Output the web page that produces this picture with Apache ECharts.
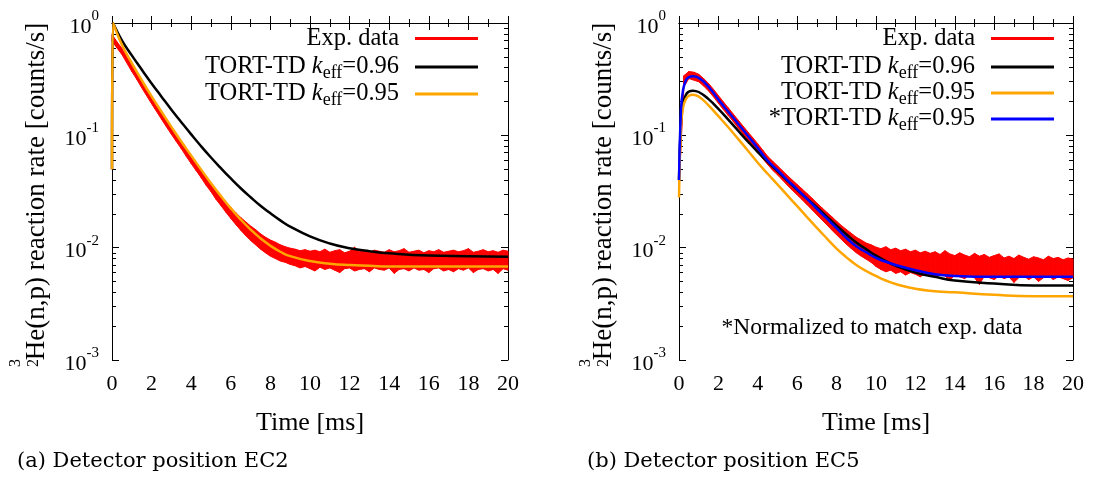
<!DOCTYPE html>
<html>
<head>
<meta charset="utf-8">
<script src="https://cdn.jsdelivr.net/npm/echarts@6/dist/echarts.min.js"></script>
<style>
  html, body { margin: 0; padding: 0; background: #fff; }
  #main { width: 1103px; height: 477px; }
</style>
</head>
<body>
<div id="main"></div>
<script>
// ---- data ----
// TORT-TD curves, position EC2 (a)
var curveTimeA = [0, 0.05, 0.5, 1, 1.5, 2, 2.5, 3, 3.5, 4, 4.5, 5, 5.5, 6, 6.5, 7, 7.5, 8, 8.5, 9, 10, 11, 12, 13, 14, 16, 18, 20];
var k096A = [0.05, 1.0, 0.70, 0.515, 0.385, 0.29, 0.221, 0.169, 0.131, 0.102, 0.080, 0.0635, 0.051, 0.0413, 0.0338, 0.0281, 0.0236, 0.0202, 0.0175, 0.0154, 0.0126, 0.0109, 0.0099, 0.0093, 0.0089, 0.0085, 0.0084, 0.0083];
var k095A = [0.05, 1.0, 0.64, 0.44, 0.31, 0.222, 0.162, 0.119, 0.088, 0.066, 0.0495, 0.0375, 0.0288, 0.0224, 0.0178, 0.0145, 0.0121, 0.0104, 0.0092, 0.0084, 0.0076, 0.0072, 0.0070, 0.0069, 0.0068, 0.0068, 0.0068, 0.0068];

// TORT-TD curves, position EC5 (b)
var curveTimeB = [0, 0.1, 0.2, 0.35, 0.5, 0.7, 1, 1.5, 2, 2.5, 3, 3.5, 4, 4.5, 5, 5.5, 6, 6.5, 7, 7.5, 8, 8.5, 9, 9.5, 10, 10.5, 11, 12, 13, 14, 16, 18, 20];
var k096B = [0.04, 0.13, 0.19, 0.23, 0.245, 0.25, 0.243, 0.21, 0.172, 0.138, 0.11, 0.088, 0.071, 0.058, 0.048, 0.0395, 0.0328, 0.0273, 0.0228, 0.0189, 0.0157, 0.0131, 0.0111, 0.0097, 0.0085, 0.0076, 0.0069, 0.0060, 0.0055, 0.0051, 0.0048, 0.0046, 0.0046];
var k095B = [0.028, 0.12, 0.175, 0.21, 0.225, 0.23, 0.222, 0.185, 0.148, 0.118, 0.093, 0.073, 0.057, 0.0455, 0.0365, 0.0292, 0.0234, 0.0187, 0.015, 0.0121, 0.0098, 0.0082, 0.0070, 0.0062, 0.0056, 0.0051, 0.00475, 0.0043, 0.0041, 0.0040, 0.0038, 0.0037, 0.0037];
var k095NormB = [0.04, 0.17, 0.25, 0.31, 0.33, 0.335, 0.325, 0.27, 0.208, 0.162, 0.127, 0.099, 0.077, 0.0595, 0.049, 0.040, 0.033, 0.0272, 0.0222, 0.0182, 0.0149, 0.0122, 0.0103, 0.0091, 0.0081, 0.0075, 0.0070, 0.0063, 0.0058, 0.0056, 0.0055, 0.0055, 0.0055];

// experimental data: lower / upper edge of the noisy band, every 0.25 ms
var expTime = [0, 0.25, 0.5, 0.75, 1, 1.25, 1.5, 1.75, 2, 2.25, 2.5, 2.75, 3, 3.25, 3.5, 3.75, 4, 4.25, 4.5, 4.75,
  5, 5.25, 5.5, 5.75, 6, 6.25, 6.5, 6.75, 7, 7.25, 7.5, 7.75, 8, 8.25, 8.5, 8.75, 9, 9.25, 9.5, 9.75,
  10, 10.25, 10.5, 10.75, 11, 11.25, 11.5, 11.75, 12, 12.25, 12.5, 12.75, 13, 13.25, 13.5, 13.75, 14, 14.25, 14.5, 14.75,
  15, 15.25, 15.5, 15.75, 16, 16.25, 16.5, 16.75, 17, 17.25, 17.5, 17.75, 18, 18.25, 18.5, 18.75, 19, 19.25, 19.5, 19.75, 20];

var expLoA = [0.69, 0.60, 0.525, 0.44, 0.37, 0.315, 0.265, 0.225, 0.191, 0.163, 0.139, 0.119, 0.102, 0.088, 0.076, 0.065, 0.056, 0.0485, 0.042, 0.036,
  0.0315, 0.027, 0.0237, 0.0207, 0.0182, 0.0161, 0.0143, 0.0128, 0.0116, 0.0106, 0.0097, 0.0090, 0.0084, 0.0080, 0.0076, 0.0074, 0.0071, 0.0069, 0.0066, 0.0068,
  0.0065, 0.0062, 0.0067, 0.0064, 0.0066, 0.0063, 0.0060, 0.0065, 0.0066, 0.0062, 0.0064, 0.0065, 0.0061, 0.0066, 0.0064, 0.0063, 0.0066, 0.0059, 0.0064, 0.0065,
  0.0062, 0.0066, 0.0063, 0.0064, 0.0060, 0.0065, 0.0066, 0.0062, 0.0064, 0.0061, 0.0065, 0.0063, 0.0066, 0.0060, 0.0064, 0.0065, 0.0062, 0.0064, 0.0059, 0.0065, 0.0063];
var expHiA = [0.79, 0.68, 0.595, 0.50, 0.42, 0.355, 0.30, 0.255, 0.217, 0.185, 0.159, 0.136, 0.117, 0.100, 0.087, 0.075, 0.065, 0.056, 0.049, 0.0425,
  0.037, 0.0325, 0.0287, 0.0255, 0.0228, 0.0205, 0.0186, 0.0170, 0.0156, 0.0145, 0.0133, 0.0124, 0.0117, 0.0112, 0.0106, 0.0102, 0.0099, 0.0097, 0.0094, 0.0096,
  0.0093, 0.0095, 0.0092, 0.0097, 0.0091, 0.0094, 0.0096, 0.0090, 0.0093, 0.0101, 0.0092, 0.0094, 0.0090, 0.0095, 0.0093, 0.0091, 0.0096, 0.0092, 0.0094, 0.0098,
  0.0091, 0.0093, 0.0095, 0.0090, 0.0094, 0.0092, 0.0096, 0.0091, 0.0093, 0.0095, 0.0092, 0.0094, 0.0098, 0.0091, 0.0093, 0.0096, 0.0092, 0.0094, 0.0091, 0.0095, 0.0093];

var expLoB = [0.034, 0.27, 0.32, 0.31, 0.30, 0.275, 0.248, 0.22, 0.193, 0.17,
  0.150, 0.133, 0.117, 0.103, 0.091, 0.080, 0.071, 0.062, 0.055, 0.049,
  0.0445, 0.040, 0.036, 0.0325, 0.0295, 0.0267, 0.0241, 0.0218, 0.0196, 0.0177,
  0.0160, 0.0144, 0.0130, 0.0118, 0.0107, 0.0098, 0.0090, 0.0084, 0.0079, 0.0074,
  0.0068, 0.0064, 0.0061, 0.0063, 0.0059, 0.0061, 0.0057, 0.0060, 0.0058, 0.0055, 0.0059,
  0.0057, 0.0054, 0.0058, 0.0056, 0.0051, 0.0057, 0.0055, 0.0053, 0.0057, 0.0054,
  0.0047, 0.0056, 0.0054, 0.0052, 0.0056, 0.0053, 0.0055, 0.0049, 0.0054, 0.0056,
  0.0052, 0.0055, 0.0050, 0.0054, 0.0056, 0.0052, 0.0055, 0.0053, 0.0051, 0.0054];
var expHiB = [0.046, 0.34, 0.37, 0.365, 0.35, 0.32, 0.29, 0.257, 0.226, 0.199,
  0.176, 0.155, 0.137, 0.121, 0.107, 0.095, 0.084, 0.074, 0.065, 0.059,
  0.0535, 0.0485, 0.044, 0.040, 0.0365, 0.0333, 0.0303, 0.0276, 0.0250, 0.0227,
  0.0207, 0.0189, 0.0172, 0.0157, 0.0145, 0.0134, 0.0124, 0.0117, 0.0110, 0.0106,
  0.0101, 0.0098, 0.0102, 0.0096, 0.0099, 0.0094, 0.0097, 0.0092, 0.0095, 0.0090, 0.0093,
  0.0089, 0.0092, 0.0087, 0.0094, 0.0088, 0.0085, 0.0090, 0.0086, 0.0083, 0.0089,
  0.0084, 0.0087, 0.0082, 0.0085, 0.0088, 0.0081, 0.0084, 0.0080, 0.0086, 0.0082,
  0.0079, 0.0083, 0.0081, 0.0078, 0.0084, 0.0080, 0.0082, 0.0078, 0.0081, 0.0079];

// minor tick positions of the log axis (2..9 x 10^n)
var yMinorTicks = [0.002, 0.003, 0.004, 0.005, 0.006, 0.007, 0.008, 0.009,
  0.02, 0.03, 0.04, 0.05, 0.06, 0.07, 0.08, 0.09,
  0.2, 0.3, 0.4, 0.5, 0.6, 0.7, 0.8, 0.9];

var FONT = 'Liberation Serif';
var chart = echarts.init(document.getElementById('main'), null, { renderer: 'canvas' });

function pairs(t, v) {
  return t.map(function (x, i) { return [x, v[i]]; });
}
// one quad of the band between two neighbouring samples
function bandData(lo, hi) {
  var out = [];
  for (var i = 0; i < expTime.length - 1; i++) {
    out.push([expTime[i], lo[i], hi[i], expTime[i + 1], lo[i + 1], hi[i + 1]]);
  }
  return out;
}
function renderBand(params, api) {
  var p1 = api.coord([api.value(0), api.value(1)]);
  var p2 = api.coord([api.value(0), api.value(2)]);
  var p3 = api.coord([api.value(3), api.value(5)]);
  var p4 = api.coord([api.value(3), api.value(4)]);
  return {
    type: 'polygon',
    shape: { points: [p1, p2, p3, p4] },
    style: { fill: '#ff0000', stroke: '#ff0000', lineWidth: 1 }
  };
}

function xAxes(grid) {
  var base = {
    type: 'value', gridIndex: grid, min: 0, max: 20, interval: 2,
    axisLine: { lineStyle: { color: '#000', width: 1 } },
    axisTick: { inside: true, length: 7, lineStyle: { color: '#000' } },
    minorTick: { show: true, splitNumber: 2, length: 4, lineStyle: { color: '#000' } },
    splitLine: { show: false }
  };
  var bottom = Object.assign({}, base, {
    position: 'bottom',
    axisLabel: { color: '#000', fontFamily: FONT, fontSize: 22, margin: 13 },
    name: 'Time [ms]', nameLocation: 'middle', nameGap: 50,
    nameTextStyle: { color: '#000', fontFamily: FONT, fontSize: 26 }
  });
  var top = Object.assign({}, base, { position: 'top', axisLabel: { show: false } });
  return [bottom, top];
}

function yAxes(grid) {
  var base = {
    type: 'log', logBase: 10, gridIndex: grid, min: 0.001, max: 1,
    splitLine: { show: false }, minorTick: { show: false }
  };
  var majorTick = { inside: true, length: 7, lineStyle: { color: '#000' } };
  var leftMajor = Object.assign({}, base, {
    position: 'left',
    axisLine: { show: true, lineStyle: { color: '#000', width: 1 } },
    axisTick: majorTick,
    axisLabel: {
      margin: 13,
      formatter: function (v) {
        return '{m|10}{e|' + Math.round(Math.log10(v)) + '}';
      },
      rich: {
        m: { fontFamily: FONT, fontSize: 22, color: '#000', padding: [8, 0, 0, 0] },
        e: { fontFamily: FONT, fontSize: 15, color: '#000', padding: [0, 0, 14, 0] }
      }
    },
    name: 'He(n,p) reaction rate [counts/s]', nameLocation: 'middle', nameRotate: 90, nameGap: 62,
    nameTextStyle: { color: '#000', fontFamily: FONT, fontSize: 27 }
  });
  var rightMajor = Object.assign({}, base, {
    position: 'right',
    axisLine: { show: true, lineStyle: { color: '#000', width: 1 } },
    axisTick: majorTick,
    axisLabel: { show: false }
  });
  // helper axes in decades (linear in log10) that only carry the 2..9 minor ticks
  var minorHelper = function (pos) {
    return {
      type: 'value', gridIndex: grid, min: -3, max: 0, position: pos,
      axisLine: { show: false }, axisLabel: { show: false }, splitLine: { show: false },
      axisTick: {
        inside: true, length: 4, lineStyle: { color: '#000' },
        customValues: yMinorTicks.map(function (v) { return Math.log10(v); })
      }
    };
  };
  return [leftMajor, minorHelper('left'), rightMajor, minorHelper('right')];
}

function lineSeries(name, xi, yi, t, v, color) {
  return {
    name: name, type: 'line', xAxisIndex: xi, yAxisIndex: yi,
    data: pairs(t, v), showSymbol: false, symbol: 'none',
    smooth: 0.5,
    lineStyle: { color: color, width: 2.5 }, itemStyle: { color: color }
  };
}
function bandSeries(xi, yi, lo, hi) {
  return {
    name: 'Exp. data', type: 'custom', xAxisIndex: xi, yAxisIndex: yi,
    renderItem: renderBand, data: bandData(lo, hi),
    encode: { x: [0, 3], y: [1, 2, 4, 5] },
    itemStyle: { color: '#ff0000' }
  };
}

var legendRich = {
  n: { fontFamily: FONT, fontSize: 24.5, color: '#000', lineHeight: 32 },
  k: { fontFamily: FONT, fontSize: 24.5, fontStyle: 'italic', color: '#000', lineHeight: 32 },
  s: { fontFamily: FONT, fontSize: 18, color: '#000', lineHeight: 20, padding: [12, 0, 0, 0] },
  g: { width: 11 }
};
function legendText(name) {
  if (name === 'Exp. data') return '{n|Exp. data}{g| }';
  var star = name.charAt(0) === '*' ? '*' : '';
  var val = name.slice(-4);
  return '{n|' + star + 'TORT-TD }{k|k}{s|eff}{n|=' + val + '}{g| }';
}
function legendRow(name, color, right, top) {
  return {
    data: [{ name: name, icon: 'rect', itemStyle: { color: color } }],
    right: right, top: top, padding: 0, orient: 'vertical', align: 'right',
    itemWidth: 63, itemHeight: 3, selectedMode: false,
    formatter: legendText, textStyle: { rich: legendRich }
  };
}

var isoStyle = { font: '16px "Liberation Serif"', fill: '#000', textAlign: 'center', textVerticalAlign: 'middle' };

var option = {
  animation: false,
  backgroundColor: '#fff',
  grid: [
    { left: 112, top: 23, width: 396, height: 337 },
    { left: 679, top: 23, width: 394, height: 337 }
  ],
  xAxis: xAxes(0).concat(xAxes(1)),
  yAxis: yAxes(0).concat(yAxes(1)),
  legend: [
    legendRow('Exp. data', '#ff0000', 625, 26),
    legendRow('TORT-TD keff=0.96', '#000000', 625, 52),
    legendRow('TORT-TD keff=0.95', '#ffa500', 625, 79),
    legendRow('Exp. data', '#ff0000', 49, 26),
    legendRow('TORT-TD keff=0.96', '#000000', 49, 52),
    legendRow('TORT-TD keff=0.95', '#ffa500', 49, 78),
    legendRow('*TORT-TD keff=0.95', '#0000ff', 49, 104)
  ],
  title: [
    { text: '(a) Detector position EC2', left: 17, top: 451, padding: 0,
      textStyle: { fontFamily: 'DejaVu Serif', fontWeight: 'normal', fontSize: 21, color: '#000' } },
    { text: '(b) Detector position EC5', left: 587, top: 451, padding: 0,
      textStyle: { fontFamily: 'DejaVu Serif', fontWeight: 'normal', fontSize: 21, color: '#000' } },
    { text: '*Normalized to match exp. data', left: 872, top: 316, textAlign: 'center', padding: 0,
      textStyle: { fontFamily: FONT, fontWeight: 'normal', fontSize: 23.5, color: '#000' } }
  ],
  graphic: [
    { type: 'text', x: 16, y: 363, rotation: Math.PI / 2, style: Object.assign({ text: '3' }, isoStyle) },
    { type: 'text', x: 34, y: 363, rotation: Math.PI / 2, style: Object.assign({ text: '2' }, isoStyle) },
    { type: 'text', x: 586, y: 363, rotation: Math.PI / 2, style: Object.assign({ text: '3' }, isoStyle) },
    { type: 'text', x: 604, y: 363, rotation: Math.PI / 2, style: Object.assign({ text: '2' }, isoStyle) }
  ],
  series: [
    bandSeries(0, 0, expLoA, expHiA),
    lineSeries('TORT-TD keff=0.96', 0, 0, curveTimeA, k096A, '#000000'),
    lineSeries('TORT-TD keff=0.95', 0, 0, curveTimeA, k095A, '#ffa500'),
    bandSeries(2, 4, expLoB, expHiB),
    lineSeries('TORT-TD keff=0.96', 2, 4, curveTimeB, k096B, '#000000'),
    lineSeries('TORT-TD keff=0.95', 2, 4, curveTimeB, k095B, '#ffa500'),
    lineSeries('*TORT-TD keff=0.95', 2, 4, curveTimeB, k095NormB, '#0000ff')
  ]
};
chart.setOption(option);
</script>
</body>
</html>
